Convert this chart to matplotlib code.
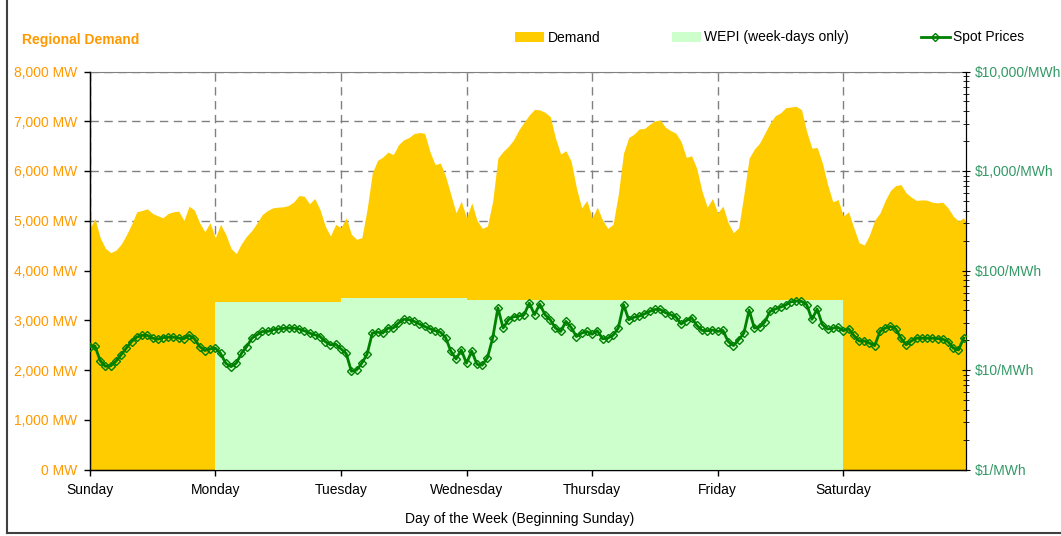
import numpy as np
import matplotlib
matplotlib.use("Agg")
import matplotlib.pyplot as plt
from matplotlib.patches import Patch
from matplotlib.lines import Line2D
from matplotlib.ticker import FixedLocator, FuncFormatter, LogLocator, NullFormatter

plt.rcParams['font.family'] = ['Liberation Sans', 'DejaVu Sans']

# hourly regional demand (MW), hour 0 = Sunday 00:00
demand = [
    4830, 5047, 4660, 4447, 4360, 4407, 4527, 4713, 4927, 5180, 5207, 5240,
    5147, 5100, 5060, 5147, 5180, 5193, 5007, 5293, 5213, 4960, 4780, 4960,
    4660, 4927, 4727, 4447, 4340, 4540, 4693, 4807, 4960, 5127, 5207, 5260,
    5273, 5280, 5307, 5380, 5507, 5493, 5340, 5447, 5227, 4893, 4693, 4927,
    4860, 5060, 4727, 4627, 4660, 5227, 5960, 6213, 6280, 6380, 6327, 6527,
    6627, 6673, 6753, 6773, 6760, 6393, 6127, 6160, 5893, 5527, 5160, 5393,
    5060, 5360, 5007, 4847, 4893, 5393, 6260, 6393, 6493, 6627, 6827, 6980,
    7127, 7240, 7227, 7180, 7093, 6660, 6340, 6407, 6193, 5660, 5260, 5407,
    5060, 5273, 5013, 4847, 4927, 5527, 6360, 6673, 6740, 6847, 6853, 6940,
    7007, 7027, 6880, 6813, 6760, 6593, 6273, 6307, 6047, 5593, 5273, 5447,
    5160, 5293, 4960, 4760, 4860, 5527, 6260, 6440, 6560, 6760, 6960, 7113,
    7167, 7273, 7287, 7300, 7233, 6793, 6460, 6473, 6160, 5727, 5380, 5427,
    5093, 5180, 4860, 4560, 4513, 4713, 5013, 5153, 5407, 5607, 5707, 5727,
    5560, 5473, 5407, 5420, 5413, 5373, 5360, 5373, 5260, 5093, 4993, 5060,
    4820,
]

# hourly spot prices ($/MWh)
spot = [
    17.2, 17.4, 12.4, 10.9, 11.0, 12.2, 14.2, 16.6, 19.3, 21.4, 22.3, 22.3,
    20.9, 20.4, 21.2, 21.4, 21.4, 20.9, 20.6, 22.3, 20.6, 17.2, 15.7, 16.3,
    16.6, 14.7, 11.7, 10.8, 11.7, 14.7, 17.2, 20.9, 22.6, 24.4, 24.4, 25.4,
    25.8, 26.2, 26.4, 26.4, 25.8, 24.8, 23.5, 22.6, 21.7, 19.3, 17.9, 18.2,
    16.3, 14.7, 9.7, 10.0, 11.7, 14.4, 23.5, 24.0, 23.5, 26.4, 26.4, 29.6,
    32.3, 32.0, 30.8, 29.0, 27.4, 26.0, 24.8, 24.0, 21.2, 15.5, 12.9, 15.9,
    11.7, 15.5, 11.4, 11.2, 13.3, 20.9, 42.0, 26.4, 32.0, 34.3, 34.8, 35.9,
    47.0, 36.0, 46.0, 35.9, 32.0, 26.4, 24.4, 30.8, 26.8, 21.7, 23.5, 24.4,
    22.9, 24.8, 20.6, 20.9, 22.3, 26.4, 45.4, 32.0, 33.9, 34.8, 36.6, 38.8,
    40.6, 40.6, 37.7, 35.9, 34.3, 29.0, 31.3, 33.6, 28.1, 25.0, 24.8, 25.2,
    24.4, 25.0, 19.3, 17.6, 20.1, 23.5, 40.0, 26.4, 27.0, 30.4, 38.8, 41.0,
    42.8, 45.0, 48.5, 49.3, 49.0, 45.4, 32.3, 41.0, 28.5, 25.8, 26.4, 26.8,
    24.8, 26.0, 22.3, 19.6, 19.6, 18.6, 17.6, 24.4, 26.4, 27.4, 26.0, 20.9,
    17.9, 19.6, 20.9, 20.9, 20.9, 20.9, 20.7, 20.4, 19.3, 16.6, 15.9, 20.9,
]

# WEPI level for each week-day (Mon..Fri), MW
wepi = [3375, 3440, 3415, 3410, 3410]

days = ["Sunday", "Monday", "Tuesday", "Wednesday", "Thursday", "Friday", "Saturday"]

hours_d = np.arange(len(demand))
hours_s = np.arange(len(spot))

ORANGE = "#FF9900"
GOLD = "#FFCC00"
LGREEN = "#CCFFCC"
DGREEN = "#008000"
SEA = "#339966"

fig = plt.figure(figsize=(10.61, 5.36), dpi=100)
ax = fig.add_axes([89.7 / 1061, 1 - 469.5 / 536, (966.3 - 89.7) / 1061, (469.5 - 71.5) / 536])

# demand area
ax.fill_between(hours_d, demand, 0, color=GOLD, linewidth=0, zorder=2)

# WEPI step area on week-days
wx = [24 * (i + 1) for i in range(len(wepi))] + [24 * (len(wepi) + 1)]
wy = wepi + [wepi[-1]]
ax.fill_between(wx, wy, 0, step="post", color=LGREEN, linewidth=0, zorder=3)

ax.set_xlim(0, 167.5)
ax.set_ylim(0, 8000)
ax.set_axisbelow(True)

ax.xaxis.set_major_locator(FixedLocator([24 * i for i in range(7)]))
ax.set_xticklabels(days)
ax.yaxis.set_major_locator(FixedLocator(np.arange(0, 8001, 1000)))
ax.yaxis.set_major_formatter(FuncFormatter(lambda v, p: f"{int(v):,} MW"))

ax.grid(True, color="#808080", linestyle=(0, (6, 4)), linewidth=1, zorder=0)
ax.tick_params(axis="y", colors=ORANGE, labelsize=10, length=4, width=1, pad=5)
ax.tick_params(axis="y", color="black")
ax.tick_params(axis="x", labelsize=10, length=4, width=1, pad=6)

for s in ["left", "bottom"]:
    ax.spines[s].set_color("black")
    ax.spines[s].set_linewidth(1)
ax.spines["top"].set_color("#808080")
ax.spines["right"].set_color("black")

# spot prices on log axis
ax2 = ax.twinx()
ax2.set_yscale("log")
ax2.set_ylim(1, 10000)
ax2.plot(hours_s, spot, color=DGREEN, linewidth=2, marker="D", markersize=4.5,
         markerfacecolor="none", markeredgecolor=DGREEN, markeredgewidth=1, zorder=5)
ax2.yaxis.set_major_locator(LogLocator(base=10, numticks=10))
ax2.yaxis.set_major_formatter(FuncFormatter(lambda v, p: f"${int(round(v)):,}/MWh"))
ax2.yaxis.set_minor_locator(LogLocator(base=10, subs=np.arange(2, 10), numticks=10))
ax2.yaxis.set_minor_formatter(NullFormatter())
ax2.tick_params(axis="y", which="major", colors=SEA, labelsize=10, length=6,
                direction="inout", pad=3)
ax2.tick_params(axis="y", which="major", color="black")
ax2.tick_params(axis="y", which="minor", length=4, direction="inout", color="black")
ax2.spines["right"].set_color("black")
ax2.spines["top"].set_visible(False)

fig.text(22 / 1061, 1 - 40 / 536, "Regional Demand", color=ORANGE, fontsize=10,
         fontweight="bold", ha="left", va="center")
fig.text(520 / 1061, 1 - 519 / 536, "Day of the Week (Beginning Sunday)",
         fontsize=10, ha="center", va="center")

handles = [
    Patch(facecolor=GOLD, edgecolor="none", label="Demand"),
    Patch(facecolor=LGREEN, edgecolor="none", label="WEPI (week-days only)"),
    Line2D([0], [0], color=DGREEN, linewidth=2, marker="D", markersize=4,
           markerfacecolor="none", markeredgecolor=DGREEN, label="Spot Prices"),
]
fig.legend(handles=handles, loc="center left", bbox_to_anchor=(508 / 1061, 1 - 37.5 / 536),
           ncol=3, frameon=False, fontsize=10, borderpad=0, handlelength=2.1,
           handletextpad=0.25, columnspacing=5.15, numpoints=1)

# outer chart frame
fig.add_artist(Line2D([7 / 1061, 7 / 1061], [3 / 536, 1], color="#404040", linewidth=1.5,
                      transform=fig.transFigure))
fig.add_artist(Line2D([7 / 1061, 1], [3 / 536, 3 / 536], color="#404040", linewidth=1.5,
                      transform=fig.transFigure))

fig.savefig("out.png", dpi=100)
